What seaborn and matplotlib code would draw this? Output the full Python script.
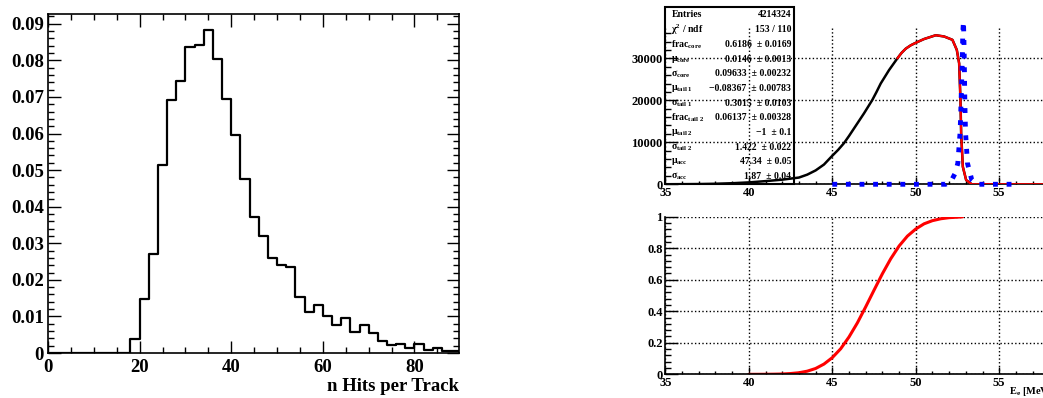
import numpy as np
import seaborn as sns
import matplotlib.pyplot as plt
from matplotlib.ticker import MultipleLocator, FuncFormatter
from matplotlib.patches import Rectangle

# ---- left: normalised number of hits per track, 2-hit bins 0..90
hit_edges = list(range(0, 92, 2))
hit_frac = [0, 0, 0, 0, 0, 0, 0, 0, 0,
            0.0039, 0.0148, 0.0270, 0.0514, 0.0691, 0.0744, 0.0837, 0.0842,
            0.0883, 0.0804, 0.0695, 0.0595, 0.0475, 0.0373, 0.0319, 0.0259,
            0.0240, 0.0235, 0.0154, 0.0112, 0.0130, 0.0100, 0.0077, 0.0095,
            0.0058, 0.0076, 0.0055, 0.0032, 0.0021, 0.0025, 0.0015, 0.0024,
            0.0009, 0.0013, 0.0005, 0.0005]

# ---- top right: E_e spectrum (data), fit, resolution
data_e = [35, 36, 37, 38, 39, 40, 41, 42, 42.5, 43, 43.5, 44, 44.5, 45,
          45.35, 45.7, 46, 46.3, 46.6, 46.9, 47.15, 47.4, 47.65, 47.9, 48.15,
          48.4, 48.65, 48.9, 49.15, 49.4, 49.7, 50, 50.5, 51.2, 51.7, 52.2,
          52.46, 52.6, 52.68, 52.72, 52.82, 53.02, 53.36, 54, 56, 58, 60]
data_n = [0, 20, 50, 120, 250, 450, 750, 1100, 1350, 1600, 2300, 3300,
          4700, 6800, 8200, 9800, 11500, 13300, 15100, 16900, 18500, 20100,
          22000, 24000, 25600, 27200, 28600, 30000, 31300, 32300, 33100,
          33700, 34600, 35500, 35200, 34400, 32000, 28800, 20000, 12100,
          4200, 1000, 0, 0, 0, 0, 0]

fit_e = [48.9, 49.15, 49.4, 49.7, 50, 50.5, 51.2, 51.7, 52.2, 52.46, 52.6,
         52.68, 52.72, 52.82, 53.02, 53.36, 54, 56, 58]
fit_n = [30000, 31300, 32300, 33100, 33700, 34600, 35500, 35200, 34400,
         32000, 28800, 20000, 12100, 4200, 1000, 0, 0, 0, 0]

reso_e = [45, 47, 49, 51, 51.8, 52.15, 52.36, 52.52, 52.66, 52.72, 52.78,
          52.82, 52.86, 52.9, 52.94, 52.98, 53.1, 53.36, 53.66, 55, 56]
reso_n = [0, 0, 0, 0, 0, 1000, 2600, 5000, 12500, 20400, 28300, 36300,
          38800, 31900, 20000, 12500, 5000, 1000, 0, 0, 0]

stats_names = ['Entries', r'$\chi^{2}$ / ndf', r'frac$_{\rm core}$',
               r'$\mu_{\rm core}$', r'$\sigma_{\rm core}$', r'$\mu_{\rm tail\ 1}$',
               r'$\sigma_{\rm tail\ 1}$', r'frac$_{\rm tail\ 2}$',
               r'$\mu_{\rm tail\ 2}$', r'$\sigma_{\rm tail\ 2}$',
               r'$\mu_{\rm acc}$', r'$\sigma_{\rm acc}$']
stats_values = ['4214324', '153 / 110', '0.6186  ± 0.0169', '0.0146  ± 0.0013',
                '0.09633  ± 0.00232', '\u22120.08367  ± 0.00783',
                '0.3015  ± 0.0103', '0.06137  ± 0.00328', '\u22121  ± 0.1',
                '1.422  ± 0.022', '47.34  ± 0.05', '1.87  ± 0.04']

# ---- bottom right: acceptance curve
acc_e = [40, 40.5, 41, 41.5, 42, 42.5, 43, 43.5, 44, 44.5, 45, 45.5, 46,
         46.5, 47, 47.5, 48, 48.5, 49, 49.5, 50, 50.5, 51, 51.5, 52, 52.5, 52.8]
acc_eff = [0, 0.0001, 0.0003, 0.0009, 0.002, 0.005, 0.010, 0.020, 0.037,
           0.065, 0.106, 0.162, 0.237, 0.326, 0.428, 0.534, 0.638, 0.733,
           0.814, 0.877, 0.922, 0.955, 0.975, 0.987, 0.994, 0.997, 0.999]

sns.set_style('ticks')
plt.rcParams.update({
    'font.family': 'Liberation Serif', 'font.weight': 'bold',
    'axes.labelweight': 'bold',
    'mathtext.fontset': 'custom', 'mathtext.rm': 'Liberation Serif:bold',
    'mathtext.it': 'Liberation Serif:bold', 'mathtext.bf': 'Liberation Serif:bold',
    'axes.edgecolor': 'black', 'text.color': 'black', 'axes.labelcolor': 'black',
    'xtick.color': 'black', 'ytick.color': 'black',
    'xtick.direction': 'in', 'ytick.direction': 'in', 'axes.linewidth': 1.2,
})

fig = plt.figure(figsize=(10.43, 3.98), dpi=100)

# left histogram
ax1 = fig.add_axes([0.046, 0.113, 0.394, 0.852])
centers = [(a + b) / 2 for a, b in zip(hit_edges[:-1], hit_edges[1:])]
sns.histplot(x=centers, weights=hit_frac, bins=hit_edges, element='step',
             fill=False, color='black', linewidth=1.6, ax=ax1)
ax1.set_xlim(0, 89.7)
ax1.set_ylim(0, 0.0927)
ax1.xaxis.set_major_locator(MultipleLocator(20))
ax1.xaxis.set_minor_locator(MultipleLocator(5))
ax1.yaxis.set_major_locator(MultipleLocator(0.01))
ax1.yaxis.set_minor_locator(MultipleLocator(0.002))
ax1.yaxis.set_major_formatter(FuncFormatter(lambda v, p: '0' if abs(v) < 1e-9 else f'{v:.2f}'))
ax1.tick_params(which='both', top=True, right=True, labelsize=13.5)
ax1.tick_params(which='major', length=9, width=1)
ax1.tick_params(which='minor', length=4.5, width=1)
ax1.tick_params(axis='x', pad=4)
ax1.tick_params(axis='y', pad=3)
ax1.set_ylabel('')
ax1.set_xlabel('n Hits per Track', loc='right', fontsize=13.5, labelpad=2)


def style_right(ax):
    ax.set_xlim(35, 60)
    ax.xaxis.set_major_locator(MultipleLocator(5))
    ax.xaxis.set_minor_locator(MultipleLocator(1))
    ax.grid(True, which='major', linestyle=':', color='black', linewidth=1.0)
    ax.set_axisbelow('line')
    ax.spines['top'].set_visible(False)
    ax.spines['right'].set_visible(False)
    ax.tick_params(which='both', labelsize=9, pad=2)
    ax.tick_params(axis='y', which='major', length=9, width=1)
    ax.tick_params(axis='y', which='minor', length=4.5, width=1)
    ax.tick_params(axis='x', which='major', length=5, width=1)
    ax.tick_params(axis='x', which='minor', length=2.5, width=1)
    ax.set_xlabel('')
    ax.set_ylabel('')


# top right spectrum
ax2 = fig.add_axes([0.638, 0.537, 0.400, 0.3977])
sns.lineplot(x=data_e, y=data_n, color='black', linewidth=1.8, ax=ax2, zorder=2)
sns.lineplot(x=fit_e, y=fit_n, color='red', linewidth=1.6, ax=ax2, zorder=3)
sns.lineplot(x=reso_e, y=reso_n, color='blue', linewidth=3.5,
             linestyle=(0, (1, 1.8)), ax=ax2, zorder=4, clip_on=False)
ax2.set_ylim(0, 37700)
ax2.yaxis.set_major_locator(MultipleLocator(10000))
ax2.yaxis.set_minor_locator(MultipleLocator(2000))
style_right(ax2)

ax2.add_patch(Rectangle((0, 0), 0.308, 1.122, transform=ax2.transAxes,
                        facecolor='white', edgecolor='black', linewidth=1.5,
                        zorder=1, clip_on=False))
for i, (name, val) in enumerate(zip(stats_names, stats_values)):
    y = 1.0695 - 0.09286 * i
    ax2.text(0.0144, y, name, transform=ax2.transAxes, ha='left', va='center',
             fontsize=7, zorder=5)
    ax2.text(0.301, y, val, transform=ax2.transAxes, ha='right', va='center',
             fontsize=7, zorder=5)

# bottom right acceptance
ax3 = fig.add_axes([0.638, 0.0595, 0.400, 0.396])
sns.lineplot(x=acc_e, y=acc_eff, color='red', linewidth=2.2, ax=ax3)
ax3.set_ylim(0, 1)
ax3.yaxis.set_major_locator(MultipleLocator(0.2))
ax3.yaxis.set_minor_locator(MultipleLocator(0.04))
ax3.yaxis.set_major_formatter(FuncFormatter(lambda v, p: f'{v:g}'))
style_right(ax3)

fig.text(1009 / 1043, 1 - 391.7 / 398, r'E$_{\rm e}$ [MeV]', ha='left',
         va='center', fontsize=7.5)

fig.savefig('out.png', dpi=100)
